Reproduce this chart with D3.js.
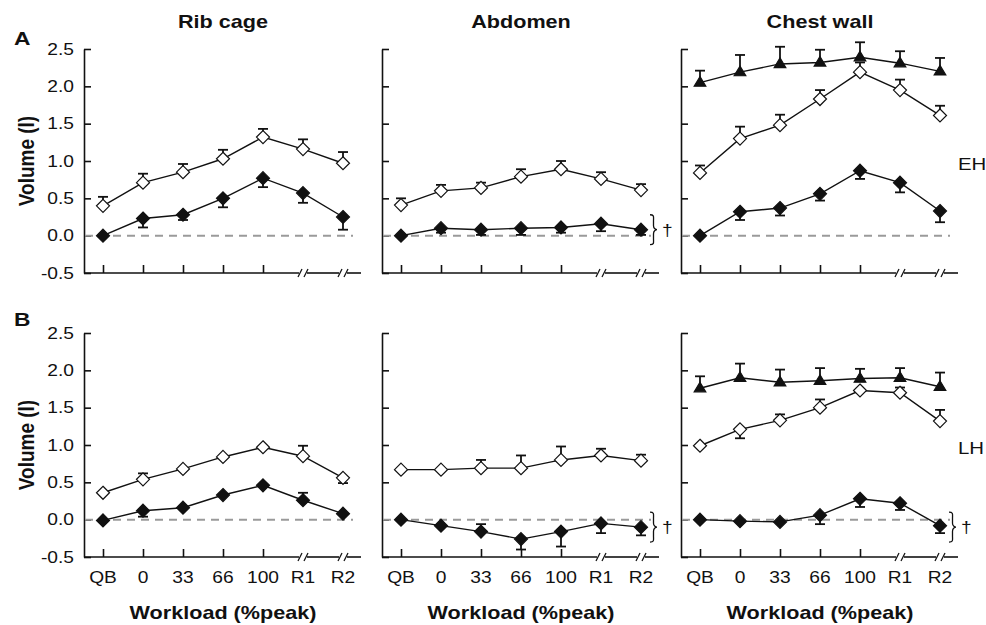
<!DOCTYPE html>
<html>
<head>
<meta charset="utf-8">
<script src="https://cdn.jsdelivr.net/npm/d3@7"></script>
<style>
  html, body { margin: 0; padding: 0; background: #fff; }
  svg { display: block; font-family: "Liberation Sans", Arial, sans-serif; }
</style>
</head>
<body>
<script>
// categories and tick labels
const categories = ["QB", "0", "33", "66", "100", "R1", "R2"];
const yTickValues = [-0.5, 0, 0.5, 1, 1.5, 2, 2.5];
const panelTitles = ["Rib cage", "Abdomen", "Chest wall"];
const rowLetters = ["A", "B"];
const rowTags = ["EH", "LH"];

// EH (row A) - err is signed: + means bar goes up, - means down
const ehRibOpen = [0.40, 0.71, 0.85, 1.03, 1.32, 1.16, 0.97];
const ehRibOpenErr = [0.12, 0.12, 0.11, 0.12, 0.11, 0.13, 0.15];
const ehRibFilled = [0.00, 0.23, 0.28, 0.50, 0.77, 0.57, 0.25];
const ehRibFilledErr = [0, -0.12, -0.07, -0.12, -0.12, -0.13, -0.17];

const ehAbOpen = [0.41, 0.60, 0.64, 0.79, 0.89, 0.76, 0.61];
const ehAbOpenErr = [0.09, 0.08, 0.07, 0.10, 0.11, 0.09, 0.08];
const ehAbFilled = [0.00, 0.10, 0.08, 0.10, 0.11, 0.16, 0.08];
const ehAbFilledErr = [0, -0.06, -0.07, -0.09, -0.07, -0.10, -0.07];

const ehCwTri = [2.05, 2.19, 2.30, 2.32, 2.39, 2.31, 2.20];
const ehCwTriErr = [0.16, 0.23, 0.23, 0.17, 0.20, 0.16, 0.18];
const ehCwOpen = [0.84, 1.30, 1.48, 1.83, 2.19, 1.95, 1.61];
const ehCwOpenErr = [0.10, 0.16, 0.14, 0.12, 0.13, 0.14, 0.13];
const ehCwFilled = [0.00, 0.32, 0.37, 0.56, 0.87, 0.71, 0.33];
const ehCwFilledErr = [0, -0.11, -0.10, -0.09, -0.11, -0.13, -0.15];

// LH (row B)
const lhRibOpen = [0.36, 0.54, 0.68, 0.84, 0.97, 0.85, 0.56];
const lhRibOpenErr = [0, 0.08, 0, 0, 0, 0.14, -0.07];
const lhRibFilled = [-0.01, 0.12, 0.16, 0.33, 0.46, 0.26, 0.08];
const lhRibFilledErr = [0, -0.08, 0, 0, 0, 0.10, 0];

const lhAbOpen = [0.67, 0.67, 0.69, 0.69, 0.80, 0.86, 0.79];
const lhAbOpenErr = [0, 0, 0.11, 0.17, 0.18, 0.09, 0.08];
const lhAbFilled = [0.00, -0.08, -0.16, -0.26, -0.16, -0.05, -0.10];
const lhAbFilledErr = [0, 0, 0.10, -0.14, -0.20, -0.13, -0.11];

const lhCwTri = [1.76, 1.90, 1.84, 1.86, 1.89, 1.90, 1.78];
const lhCwTriErr = [0.16, 0.19, 0.17, 0.17, 0.13, 0.13, 0.19];
const lhCwOpen = [0.99, 1.21, 1.33, 1.50, 1.73, 1.70, 1.32];
const lhCwOpenErr = [0, -0.12, 0.08, 0.11, 0, 0.07, 0.15];
const lhCwFilled = [0.00, -0.02, -0.03, 0.06, 0.28, 0.22, -0.08];
const lhCwFilledErr = [0, 0, 0, -0.12, -0.11, -0.09, -0.10];

// significance braces (row, col, value span)
const braces = [
    { row: 0, col: 1, lo: -0.12, hi: 0.28 },
    { row: 1, col: 1, lo: -0.30, hi: 0.10 },
    { row: 1, col: 2, lo: -0.30, hi: 0.10 }
];

const panels = [
    [
        [{ shape: "open", v: ehRibOpen, e: ehRibOpenErr }, { shape: "filled", v: ehRibFilled, e: ehRibFilledErr }],
        [{ shape: "open", v: ehAbOpen, e: ehAbOpenErr }, { shape: "filled", v: ehAbFilled, e: ehAbFilledErr }],
        [{ shape: "tri", v: ehCwTri, e: ehCwTriErr }, { shape: "open", v: ehCwOpen, e: ehCwOpenErr }, { shape: "filled", v: ehCwFilled, e: ehCwFilledErr }]
    ],
    [
        [{ shape: "open", v: lhRibOpen, e: lhRibOpenErr }, { shape: "filled", v: lhRibFilled, e: lhRibFilledErr }],
        [{ shape: "open", v: lhAbOpen, e: lhAbOpenErr }, { shape: "filled", v: lhAbFilled, e: lhAbFilledErr }],
        [{ shape: "tri", v: lhCwTri, e: lhCwTriErr }, { shape: "open", v: lhCwOpen, e: lhCwOpenErr }, { shape: "filled", v: lhCwFilled, e: lhCwFilledErr }]
    ]
];

// layout
const W = 986, H = 625;
const SX = 1.2; // text is a bit wide in the original
const colAxisX = [84, 382, 681];
const rowRange = [[273, 49], [557, 333]];

const svg = d3.select("body").append("svg").attr("width", W).attr("height", H);

function label(x, y, str, o) {
    o = o || {};
    svg.append("text")
        .attr("transform", `translate(${x},${y}) scale(${SX},1)` + (o.rotate ? " rotate(-90)" : ""))
        .attr("text-anchor", o.anchor || "start")
        .attr("font-size", o.size || 16)
        .attr("font-weight", o.bold ? "bold" : null)
        .attr("fill", "#111")
        .text(str);
}

function diamond(r) { return `M0,${-r}L${r},0L0,${r}L${-r},0Z`; }
const triPath = "M0,-6L5.8,3.6L-5.8,3.6Z";

function bracePath(x, y0, y1, w) {
    const m = (y0 + y1) / 2, h = w * 0.5;
    return `M${x},${y0} C${x + h + 1},${y0} ${x + h},${y0 + 2} ${x + h},${y0 + 6}` +
        ` L${x + h},${m - 4} C${x + h},${m - 1} ${x + w - 1},${m} ${x + w},${m}` +
        ` C${x + w - 1},${m} ${x + h},${m + 1} ${x + h},${m + 4}` +
        ` L${x + h},${y1 - 6} C${x + h},${y1 - 2} ${x + h + 1},${y1} ${x},${y1}`;
}

panels.forEach((row, r) => {
    const y = d3.scaleLinear().domain([-0.5, 2.5]).range(rowRange[r]);
    const yBottom = y(-0.5);

    label(14, r === 0 ? 45 : 326, rowLetters[r], { size: 19, bold: true });
    label(34, (rowRange[r][0] + rowRange[r][1]) / 2, "Volume (l)", { size: 19, bold: true, rotate: true, anchor: "middle" });

    row.forEach((series, c) => {
        const ax = colAxisX[c];
        const x = d3.scalePoint().domain(categories).range([ax + 19, ax + 259]);
        const g = svg.append("g");

        // y axis, ticks pointing inward
        const yAxis = g.append("g")
            .attr("transform", `translate(${ax},0)`)
            .call(d3.axisLeft(y).tickValues(yTickValues).tickSize(-7).tickSizeOuter(0).tickPadding(10)
                .tickFormat(c === 0 ? d => d.toFixed(1) : ""));
        yAxis.attr("font-family", null).attr("font-size", 16);
        yAxis.selectAll("path, line").attr("stroke", "#111").attr("stroke-width", 1.6);
        yAxis.selectAll(".tick text").attr("fill", "#111")
            .attr("x", -10 / SX).attr("transform", `scale(${SX},1)`);

        // x axis ticks (only workload points), breaks at R1 / R2
        const xAxis = g.append("g")
            .attr("transform", `translate(0,${yBottom})`)
            .call(d3.axisBottom(x).tickValues(categories.slice(0, 5)).tickSize(-8).tickSizeOuter(0).tickFormat(""));
        xAxis.select(".domain").remove();
        xAxis.selectAll("line").attr("stroke", "#111").attr("stroke-width", 1.6);

        const xr1 = x("R1"), xr2 = x("R2");
        const segs = [[ax, xr1 - 4], [xr1 + 4, xr2 - 4], [xr2 + 4, xr2 + 18]];
        g.selectAll(".xseg").data(segs).enter().append("line")
            .attr("x1", d => d[0]).attr("x2", d => d[1])
            .attr("y1", yBottom).attr("y2", yBottom)
            .attr("stroke", "#111").attr("stroke-width", 1.6);
        const slashes = [xr1 - 3, xr1 + 3, xr2 - 3, xr2 + 3];
        g.selectAll(".slash").data(slashes).enter().append("line")
            .attr("x1", d => d - 2).attr("x2", d => d + 2)
            .attr("y1", yBottom + 4).attr("y2", yBottom - 4)
            .attr("stroke", "#111").attr("stroke-width", 1.3);

        // zero reference
        g.append("line")
            .attr("x1", ax + 1).attr("x2", xr2 + 10)
            .attr("y1", y(0)).attr("y2", y(0))
            .attr("stroke", "#9a9a9a").attr("stroke-width", 2).attr("stroke-dasharray", "8,6");

        // titles
        if (r === 0) label((x("QB") + xr2) / 2, 28, panelTitles[c], { size: 18, bold: true, anchor: "middle" });
        if (r === 1) {
            categories.forEach(cat => label(x(cat), 583, cat, { size: 16, anchor: "middle" }));
            label((x("QB") + xr2) / 2, 619, "Workload (%peak)", { size: 18, bold: true, anchor: "middle" });
        }

        const line = d3.line().x((d, i) => x(categories[i])).y(d => y(d));
        series.forEach(s => {
            g.append("path").datum(s.v)
                .attr("fill", "none").attr("stroke", "#111").attr("stroke-width", 1.4)
                .attr("d", line);
        });
        series.forEach(s => {
            s.v.forEach((v, i) => {
                const e = s.e[i];
                if (!e) return;
                const cx = x(categories[i]), yEnd = y(v + e);
                g.append("line").attr("x1", cx).attr("x2", cx).attr("y1", y(v)).attr("y2", yEnd)
                    .attr("stroke", "#111").attr("stroke-width", 1.8);
                g.append("line").attr("x1", cx - 5).attr("x2", cx + 5).attr("y1", yEnd).attr("y2", yEnd)
                    .attr("stroke", "#111").attr("stroke-width", 1.8);
            });
        });
        series.forEach(s => {
            g.selectAll(null).data(s.v).enter().append("path")
                .attr("transform", (d, i) => `translate(${x(categories[i])},${y(d)})`)
                .attr("d", s.shape === "tri" ? triPath : diamond(6.5))
                .attr("fill", s.shape === "open" ? "#fff" : "#111")
                .attr("stroke", "#111").attr("stroke-width", 1.2);
        });

        // brace + dagger
        braces.filter(b => b.row === r && b.col === c).forEach(b => {
            const bx = xr2 + 9;
            g.append("path").attr("d", bracePath(bx, y(b.hi), y(b.lo), 7))
                .attr("fill", "none").attr("stroke", "#111").attr("stroke-width", 1.3);
            label(bx + 12, (y(b.hi) + y(b.lo)) / 2 + 6, "\u2020", { size: 16 });
        });

        if (c === 2) label(958, (rowRange[r][0] + rowRange[r][1]) / 2 + 9, rowTags[r], { size: 17 });
    });
});
</script>
</body>
</html>
